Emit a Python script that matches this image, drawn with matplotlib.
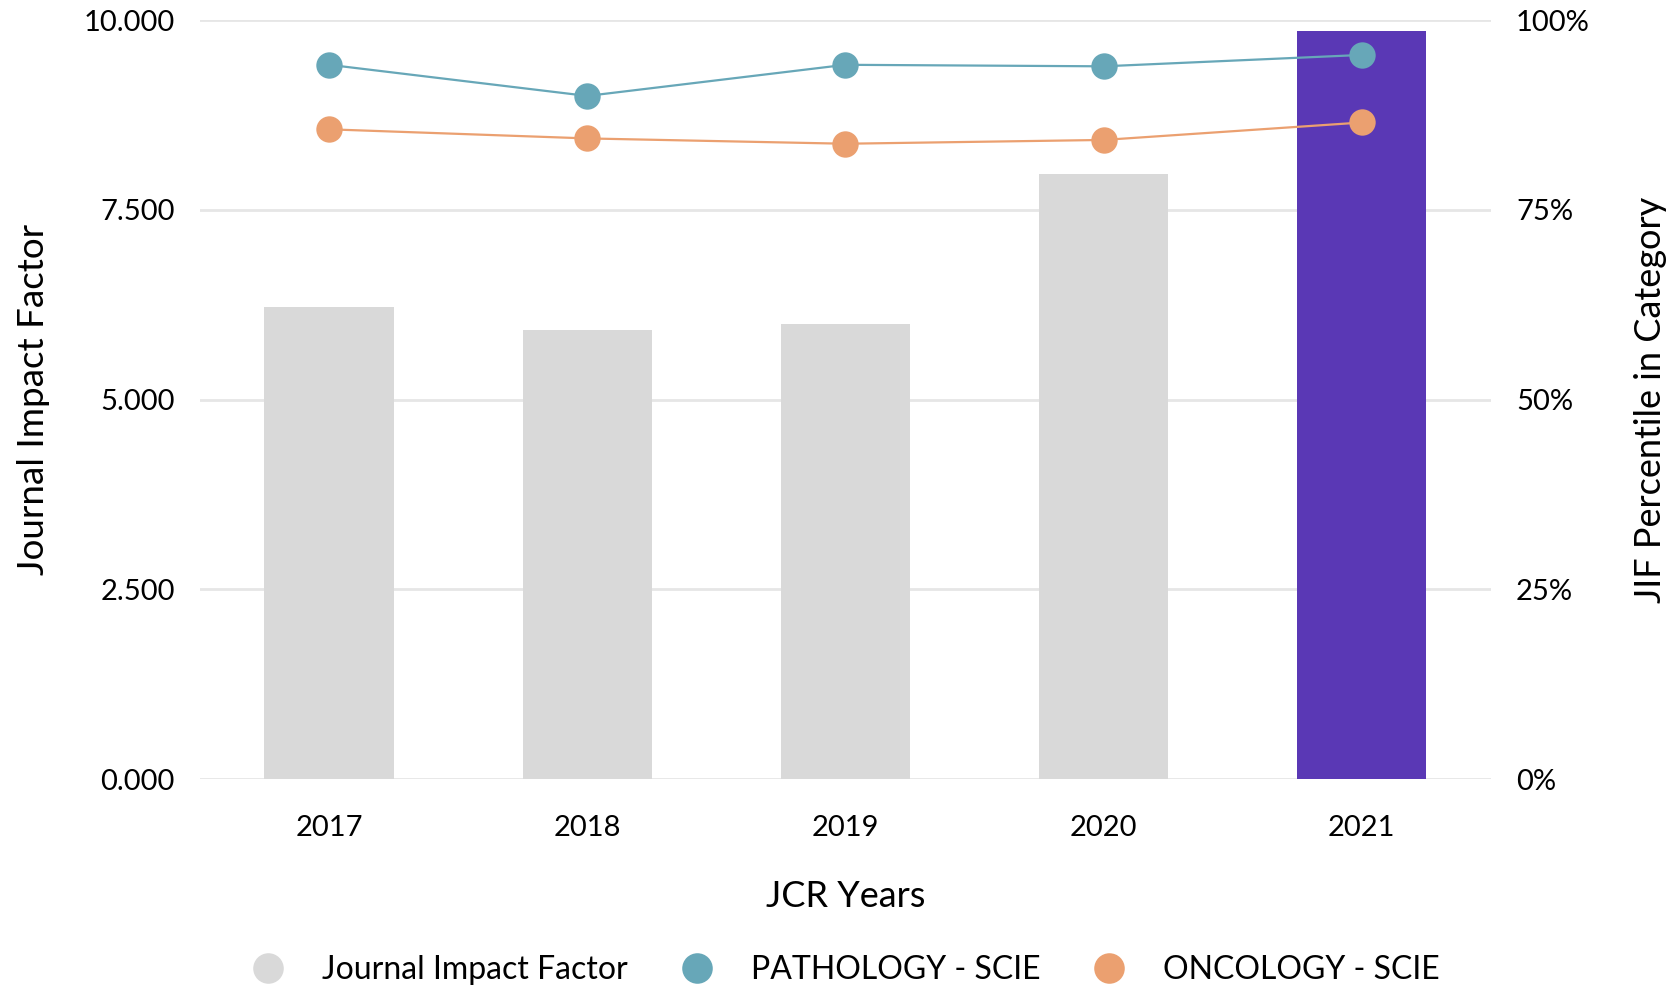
import matplotlib
matplotlib.use("Agg")
import matplotlib.pyplot as plt
from matplotlib.lines import Line2D
from matplotlib.ticker import FuncFormatter

plt.rcParams["font.family"] = ["Lato", "DejaVu Sans"]

# Data
years = ["2017", "2018", "2019", "2020", "2021"]
jif = [6.225, 5.915, 6.0, 7.97, 9.86]
pathology = [94.1, 90.0, 94.1, 93.9, 95.4]
oncology = [85.6, 84.4, 83.7, 84.2, 86.5]

bar_grey = "#d9d9d9"
bar_purple = "#5a38b5"
teal = "#67a7b8"
orange = "#eba070"
grid_col = "#e6e6e6"

fig = plt.figure(figsize=(16.76, 9.91), dpi=100)
ax = fig.add_axes([0.1193, 0.2139, 0.8896 - 0.1193, 0.9798 - 0.2139])
ax2 = ax.twinx()

x = list(range(len(years)))
colors = [bar_grey] * (len(years) - 1) + [bar_purple]
ax.bar(x, jif, width=0.5, color=colors, zorder=2)

ax.set_xlim(-0.5, len(years) - 0.5)
ax.set_ylim(0, 10)
ax.set_yticks([0, 2.5, 5, 7.5, 10])
ax.yaxis.set_major_formatter(FuncFormatter(lambda v, p: f"{v:.3f}"))
ax.set_xticks(x)
ax.set_xticklabels(years)
ax.grid(axis="y", color=grid_col, linewidth=2, zorder=0)
ax.set_axisbelow(True)

ax2.plot(x, pathology, color=teal, linewidth=1.6, marker="o", markersize=19,
         markeredgewidth=0, zorder=3)
ax2.plot(x, oncology, color=orange, linewidth=1.6, marker="o", markersize=19,
         markeredgewidth=0, zorder=3)
ax2.set_ylim(0, 100)
ax2.set_yticks([0, 25, 50, 75, 100])
ax2.yaxis.set_major_formatter(FuncFormatter(lambda v, p: f"{v:.0f}%"))

for a in (ax, ax2):
    for s in a.spines.values():
        s.set_visible(False)
    a.tick_params(length=0, labelsize=21, colors="black")

ax.tick_params(axis="y", pad=18)
ax.tick_params(axis="x", pad=26)
ax2.tick_params(axis="y", pad=18)

ax.set_xlabel("JCR Years", fontsize=26, labelpad=28)
ax.set_ylabel("Journal Impact Factor", fontsize=26.5, labelpad=24)
ax2.set_ylabel("JIF Percentile in Category", fontsize=26, labelpad=32)

handles = [
    Line2D([], [], linestyle="none", marker="o", markersize=22,
           markerfacecolor=bar_grey, markeredgewidth=0, label="Journal Impact Factor"),
    Line2D([], [], linestyle="none", marker="o", markersize=22,
           markerfacecolor=teal, markeredgewidth=0, label="PATHOLOGY - SCIE"),
    Line2D([], [], linestyle="none", marker="o", markersize=22,
           markerfacecolor=orange, markeredgewidth=0, label="ONCOLOGY - SCIE"),
]
fig.legend(handles=handles, loc="center", bbox_to_anchor=(0.5, 0.021), ncol=3,
           frameon=False, fontsize=23, handletextpad=0.7, columnspacing=1.15)

fig.savefig("out.png", dpi=100)
